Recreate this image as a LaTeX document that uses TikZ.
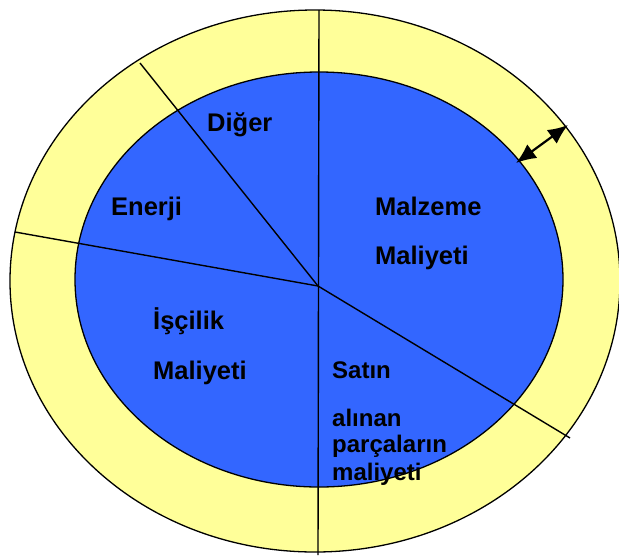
\documentclass[tikz,border=0pt]{standalone}
\usepackage{fontspec}
\setmainfont{Liberation Sans}
\usetikzlibrary{arrows.meta}
\definecolor{ringyellow}{RGB}{255,255,153}
\definecolor{pieblue}{RGB}{51,102,255}
\tikzset{
  lbl/.style={anchor=base west,inner sep=0pt,font=\fontsize{25.5}{27}\selectfont\bfseries},
  sublbl/.style={lbl,font=\fontsize{24}{27}\selectfont\bfseries},
  cut/.style={line width=1.4pt},
  dblarrow/.style={{Latex[length=20pt,width=17pt]}-{Latex[length=20pt,width=17pt]},line width=2.2pt},
}
\begin{document}
\begin{tikzpicture}[x=1pt,y=-1pt]
  \useasboundingbox (0,0) rectangle (619,555);
  \fill[ringyellow,draw=black,line width=1.3pt] (315,281) ellipse [x radius=305pt,y radius=271pt];
  \fill[pieblue,draw=black,line width=1.3pt] (319,279.5) ellipse [x radius=244pt,y radius=207.5pt];
  \coordinate (O) at (318,286);
  \coordinate (T) at (319,10);
  \coordinate (B) at (318,555);
  \coordinate (UL) at (140,63);
  \coordinate (L) at (15,232);
  \coordinate (LR) at (570,438);
  \draw[cut] (T)--(B);
  \draw[cut] (O)--(UL);
  \draw[cut] (O)--(L);
  \draw[cut] (O)--(LR);
  \node[lbl] (diger) at (207,131) {Diğer};
  \node[lbl] (enerji) at (111,215) {Enerji};
  \node[lbl] (malzeme) at (375,215) {Malzeme};
  \node[lbl] (malmal) at (375,264) {Maliyeti};
  \node[lbl] (iscilik) at (153,329) {İşçilik};
  \node[lbl] (iscmal) at (153,379) {Maliyeti};
  \node[sublbl] (satin) at (332,378) {Satın};
  \node[sublbl] (alinan) at (332,426) {alınan};
  \node[sublbl] (parca) at (332,452) {parçaların};
  \node[sublbl] (parmal) at (332,480) {maliyeti};
  \coordinate (P) at (516,163);
  \coordinate (Q) at (568,125);
  \draw[dblarrow] (P)--(Q);
\end{tikzpicture}
\end{document}
